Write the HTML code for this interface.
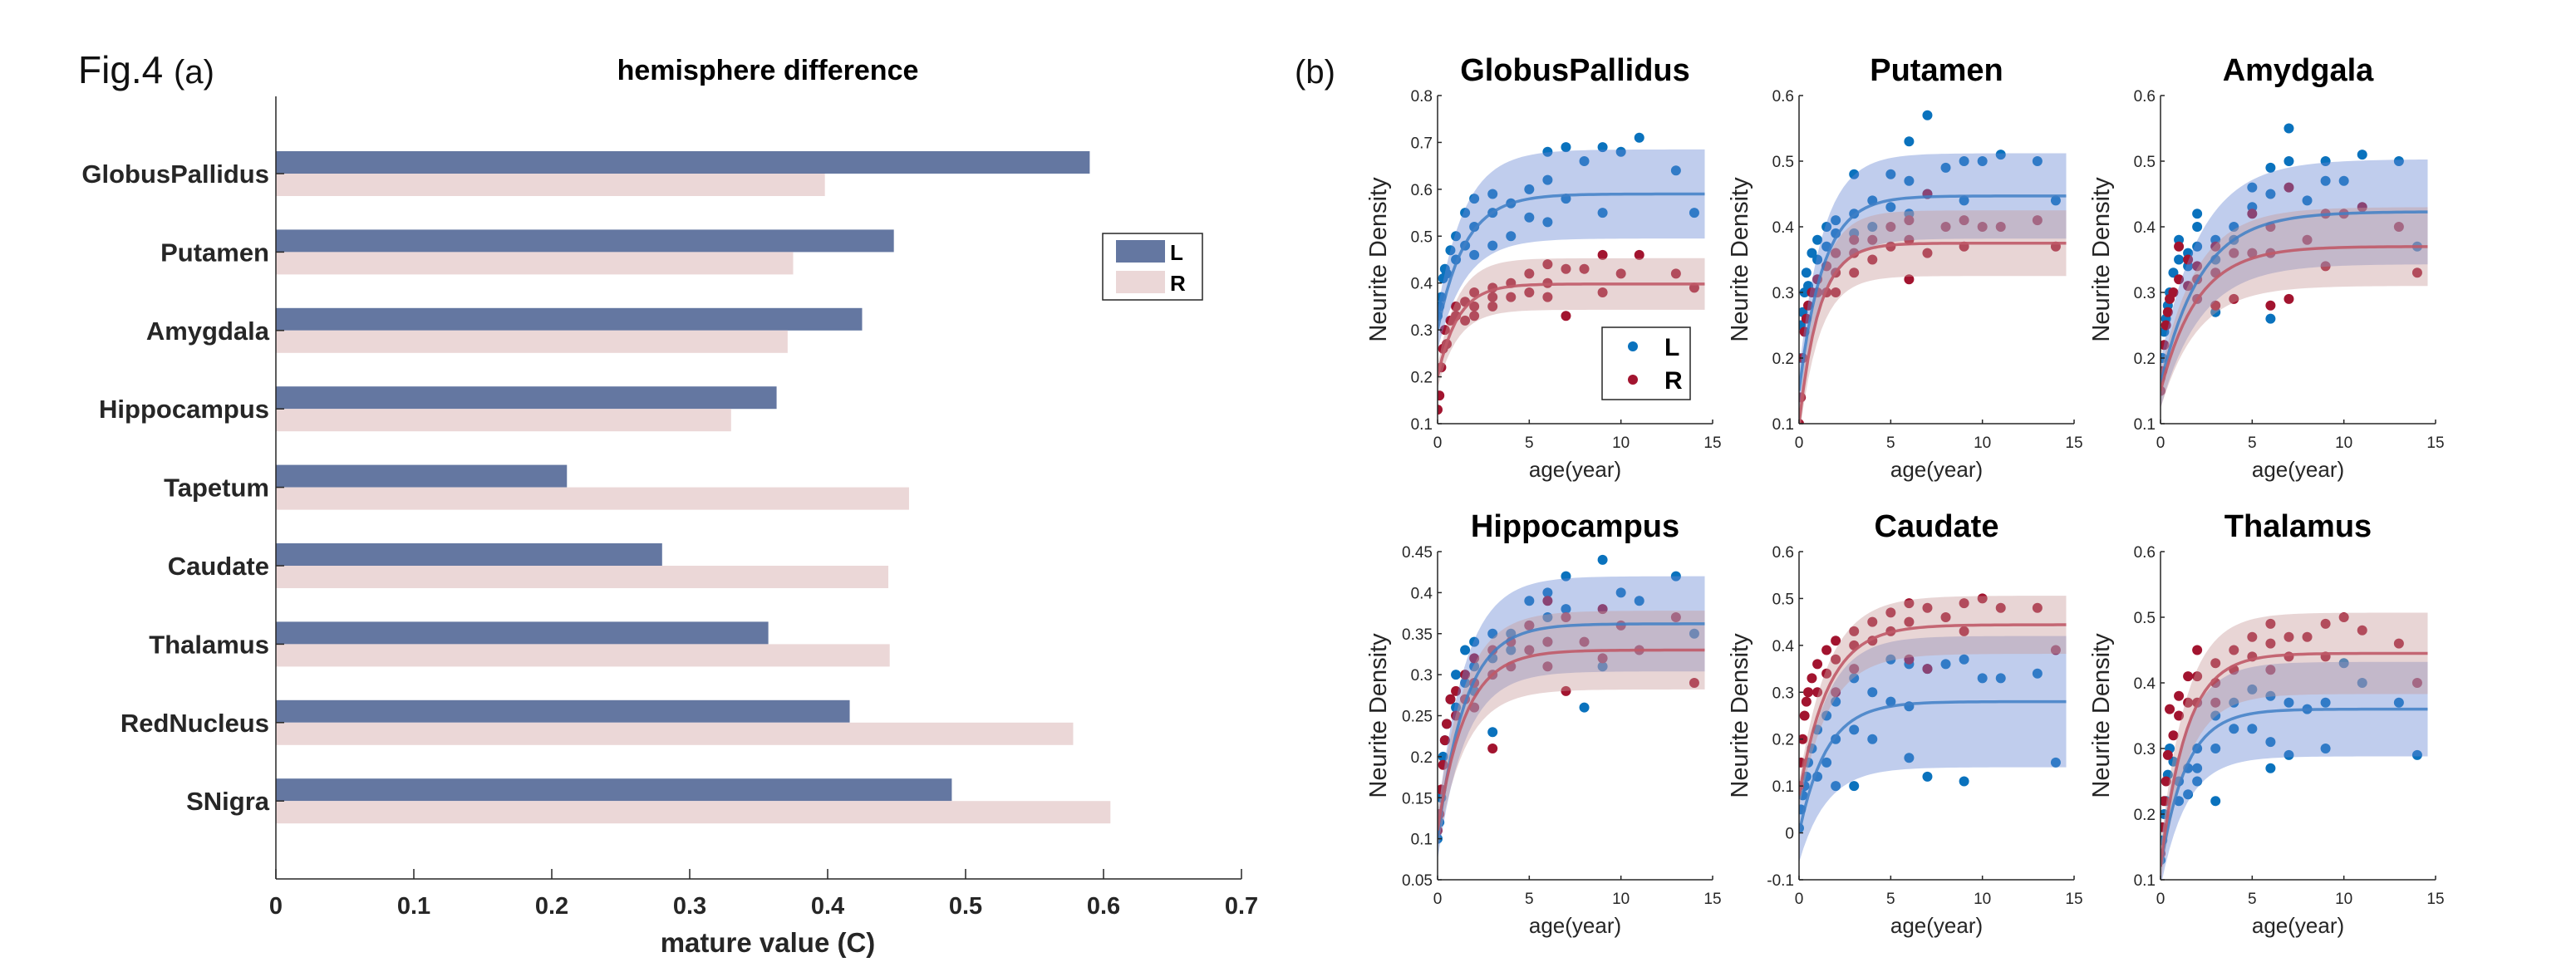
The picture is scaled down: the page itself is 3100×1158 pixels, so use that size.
<!DOCTYPE html>
<html><head><meta charset="utf-8"><style>
html,body{margin:0;padding:0;background:#fff;}
svg{display:block;font-family:"Liberation Sans",Arial,sans-serif;}
</style></head><body>
<svg id="fig" width="3100" height="1158" viewBox="0 0 3100 1158" xmlns="http://www.w3.org/2000/svg">
<rect width="3100" height="1158" fill="#fff"/>
<text x="94" y="100" font-size="46" fill="#111">Fig.4 <tspan font-size="40">(a)</tspan></text>
<text x="1558" y="100" font-size="40" fill="#111">(b)</text>
<g id="bars"></g>
<g id="scatters"></g>
</svg>
<script>
// ---------- bar chart data ----------
const regions = ["GlobusPallidus","Putamen","Amygdala","Hippocampus","Tapetum","Caudate","Thalamus","RedNucleus","SNigra"];
const leftValues = [0.590,0.448,0.425,0.363,0.211,0.280,0.357,0.416,0.490];
const rightValues = [0.398,0.375,0.371,0.330,0.459,0.444,0.445,0.578,0.605];
const barTicks = [0,0.1,0.2,0.3,0.4,0.5,0.6,0.7];

// ---------- scatter data ----------
const panelNames = ["GlobusPallidus","Putamen","Amydgala","Hippocampus","Caudate","Thalamus"];
const ages = [0,0.1,0.2,0.3,0.4,0.5,0.7,1,1,1.5,1.5,2,2,2,3,3,3,4,4,5,5,6,6,6,7,7,8,9,9,10,11,13,14];
const gpL = [0.33,0.35,0.37,0.41,0.43,0.42,0.47,0.45,0.5,0.55,0.48,0.58,0.52,0.46,0.59,0.55,0.48,0.57,0.5,0.6,0.54,0.68,0.62,0.53,0.69,0.58,0.66,0.69,0.55,0.68,0.71,0.64,0.55];
const gpR = [0.13,0.16,0.22,0.26,0.3,0.27,0.32,0.35,0.33,0.36,0.32,0.38,0.35,0.33,0.39,0.37,0.35,0.4,0.37,0.42,0.38,0.44,0.4,0.37,0.43,0.33,0.43,0.46,0.38,0.42,0.46,0.42,0.39];
const puL = [0.2,0.25,0.27,0.3,0.33,0.31,0.36,0.35,0.38,0.4,0.37,0.41,0.39,0.36,0.48,0.42,0.39,0.44,0.4,0.48,0.43,0.53,0.47,0.42,0.57,0.45,0.49,0.5,0.44,0.5,0.51,0.5,0.44];
const puR = [0.1,0.14,0.2,0.24,0.26,0.28,0.3,0.32,0.3,0.34,0.3,0.36,0.33,0.3,0.38,0.36,0.33,0.38,0.35,0.4,0.37,0.41,0.38,0.32,0.45,0.36,0.4,0.41,0.37,0.4,0.4,0.41,0.37];
const amL = [0.17,0.2,0.24,0.26,0.28,0.3,0.33,0.38,0.35,0.36,0.34,0.42,0.4,0.37,0.38,0.35,0.27,0.4,0.38,0.46,0.43,0.49,0.45,0.26,0.55,0.5,0.44,0.5,0.47,0.47,0.51,0.5,0.37];
const amR = [0.15,0.18,0.22,0.25,0.27,0.29,0.3,0.37,0.32,0.35,0.31,0.34,0.32,0.29,0.37,0.33,0.28,0.36,0.29,0.42,0.36,0.4,0.36,0.28,0.46,0.29,0.38,0.42,0.34,0.42,0.43,0.4,0.33];
const hiL = [0.1,0.12,0.15,0.2,0.22,0.24,0.27,0.3,0.26,0.33,0.29,0.34,0.31,0.28,0.35,0.32,0.23,0.35,0.33,0.39,0.36,0.4,0.37,0.34,0.42,0.38,0.26,0.44,0.31,0.4,0.39,0.42,0.35];
const hiR = [0.11,0.13,0.16,0.19,0.22,0.24,0.27,0.28,0.25,0.3,0.27,0.32,0.29,0.26,0.33,0.3,0.21,0.34,0.31,0.36,0.33,0.39,0.34,0.31,0.37,0.28,0.34,0.38,0.32,0.36,0.33,0.37,0.29];
const caL = [0.01,0.05,0.08,0.1,0.12,0.15,0.18,0.22,0.12,0.25,0.15,0.28,0.2,0.1,0.33,0.22,0.1,0.3,0.2,0.37,0.28,0.36,0.27,0.16,0.35,0.12,0.36,0.37,0.11,0.33,0.33,0.34,0.15];
const caR = [0.1,0.15,0.2,0.25,0.28,0.3,0.33,0.36,0.3,0.39,0.34,0.41,0.37,0.3,0.43,0.4,0.35,0.45,0.41,0.47,0.43,0.49,0.45,0.37,0.48,0.35,0.46,0.49,0.43,0.5,0.48,0.48,0.39];
const thL = [0.13,0.16,0.2,0.22,0.26,0.3,0.28,0.25,0.22,0.27,0.23,0.3,0.27,0.25,0.35,0.3,0.22,0.37,0.33,0.39,0.33,0.38,0.31,0.27,0.37,0.29,0.36,0.37,0.3,0.43,0.4,0.37,0.29];
const thR = [0.14,0.18,0.22,0.25,0.29,0.36,0.32,0.38,0.35,0.41,0.37,0.45,0.41,0.37,0.43,0.4,0.37,0.45,0.42,0.47,0.44,0.49,0.46,0.42,0.47,0.44,0.47,0.49,0.44,0.5,0.48,0.46,0.4];
const leftSeries = [gpL,puL,amL,hiL,caL,thL];
const rightSeries = [gpR,puR,amR,hiR,caR,thR];
// fit parameters: plateau, start, time constant, band half-width
const fitPlateauL = [0.59,0.447,0.423,0.362,0.28,0.36];
const fitStartL = [0.30,0.15,0.16,0.10,0.0,0.12];
const fitTauL = [1.5,1.3,2.2,1.5,1.5,1.4];
const fitBandL = [0.095,0.065,0.08,0.058,0.14,0.072];
const fitPlateauR = [0.398,0.375,0.37,0.33,0.444,0.445];
const fitStartR = [0.2,0.1,0.15,0.11,0.08,0.12];
const fitTauR = [1.1,1.1,2.0,1.5,1.6,1.4];
const fitBandR = [0.055,0.05,0.06,0.048,0.062,0.062];
const yMin = [0.1,0.1,0.1,0.05,-0.1,0.1];
const yMax = [0.8,0.6,0.6,0.45,0.6,0.6];
const yStep = [0.1,0.1,0.1,0.05,0.1,0.1];
const xTicks = [0,5,10,15];

const NS="http://www.w3.org/2000/svg";
function mk(tag, attrs, parent){const e=document.createElementNS(NS,tag);for(const k in attrs)e.setAttribute(k,attrs[k]);parent.appendChild(e);return e;}
function fmt(v){let s=(Math.round(v*100)/100).toString();return s;}

// ---------- bar chart ----------
(function(){
  const g=document.getElementById('bars');
  const x0=332, pxPer=1660, yTop=116, yBot=1058, c0=209, step=94.4, bh=27;
  const xs=v=>x0+v*pxPer;
  const t=mk('text',{x:924,y:96,'font-size':34,'font-weight':'bold','text-anchor':'middle',fill:'#000'},g);
  t.textContent='hemisphere difference';
  
  
  regions.forEach((r,i)=>{
    const cy=c0+i*step;
    const bl=mk('rect',{x:x0,y:cy-bh,width:xs(leftValues[i])-x0,height:bh,fill:'#6477a1'},g);
    
    
    const br=mk('rect',{x:x0,y:cy,width:xs(rightValues[i])-x0,height:bh,fill:'#ebd7d7'},g);
    
    
    mk('line',{x1:x0,x2:x0+10,y1:cy,y2:cy,stroke:'#262626','stroke-width':1.5},g);
    const lb=mk('text',{x:324,y:cy+11,'font-size':31,'font-weight':'bold','text-anchor':'end',fill:'#262626'},g);
    lb.textContent=r;
    
    
  });
  mk('line',{x1:x0,x2:x0,y1:yTop,y2:yBot,stroke:'#262626','stroke-width':1.5},g);
  mk('line',{x1:x0,x2:xs(0.7),y1:yBot,y2:yBot,stroke:'#262626','stroke-width':1.5},g);
  barTicks.forEach(v=>{
    mk('line',{x1:xs(v),x2:xs(v),y1:yBot,y2:yBot-12,stroke:'#262626','stroke-width':1.5},g);
    const tl=mk('text',{x:xs(v),y:1100,'font-size':29,'font-weight':'bold','text-anchor':'middle',fill:'#262626'},g);
    tl.textContent=fmt(v);
    
    
  });
  const xt=mk('text',{x:924,y:1146,'font-size':33,'font-weight':'bold','text-anchor':'middle',fill:'#262626'},g);
  xt.textContent='mature value (C)';
  
  
  const lg=mk('g',{},g);
  
  
  mk('rect',{x:1327,y:281,width:120,height:80,fill:'#fff',stroke:'#262626','stroke-width':1.5},lg);
  mk('rect',{x:1343,y:289,width:59,height:27,fill:'#6477a1'},lg);
  mk('rect',{x:1343,y:326,width:59,height:27,fill:'#ebd7d7'},lg);
  const l1=mk('text',{x:1408,y:313,'font-size':26,'font-weight':'bold',fill:'#000'},lg); l1.textContent='L';
  
  
  const l2=mk('text',{x:1408,y:350,'font-size':26,'font-weight':'bold',fill:'#000'},lg); l2.textContent='R';
  
  
})();

// ---------- scatter panels ----------
(function(){
  const root=document.getElementById('scatters');
  const colX=[1730,2165,2600], rowTop=[115,664], W=331, H=395;
  const bandEnd=14.57;
  panelNames.forEach((nm,p)=>{
    const ox=colX[p%3], oy=rowTop[Math.floor(p/3)];
    const g=mk('g',{},root);
    
    
    const sx=t=>ox+t/15*W;
    const sy=v=>oy+H-(v-yMin[p])/(yMax[p]-yMin[p])*H;
    const clip='clip'+p;
    const cp=mk('clipPath',{id:clip},g);
    mk('rect',{x:ox,y:oy-10,width:W+10,height:H+10},cp);
    const pg=mk('g',{'clip-path':'url(#'+clip+')'},g);
    const drawDots=(arr,col,name)=>{
      arr.forEach((v,i)=>{
        const c=mk('circle',{cx:sx(ages[i]),cy:sy(v),r:6,fill:col},pg);
        
        
      });
    };
    drawDots(leftSeries[p],'#0a72bd','point-left');
    drawDots(rightSeries[p],'#a2142f','point-right');
    const fit=(C,S,tau,w,bandCol,side)=>{
      const f=t=>C-(C-S)*Math.exp(-t/tau);
      const bw=t=>w*(0.45+0.55*(1-Math.exp(-t/tau)));
      let up=[],dn=[],ln=[];
      for(let k=0;k<=60;k++){const t=bandEnd*k/60;up.push(sx(t)+','+sy(f(t)+bw(t)));dn.push(sx(t)+','+sy(f(t)-bw(t)));ln.push(sx(t)+','+sy(f(t)));}
      const b=mk('polygon',{points:up.concat(dn.reverse()).join(' '),fill:bandCol,'fill-opacity':0.42},pg);
      
      
      return ln;
    };
    const lnL=fit(fitPlateauL[p],fitStartL[p],fitTauL[p],fitBandL[p],'#6a88d4','left');
    const lnR=fit(fitPlateauR[p],fitStartR[p],fitTauR[p],fitBandR[p],'#c99a9a','right');
    const a=mk('polyline',{points:lnL.join(' '),fill:'none',stroke:'#3f7fc6','stroke-width':3.5,'stroke-opacity':0.85},pg);
    
    
    const b=mk('polyline',{points:lnR.join(' '),fill:'none',stroke:'#c05a68','stroke-width':3.5,'stroke-opacity':0.9},pg);
    
    
    mk('line',{x1:ox,x2:ox,y1:oy,y2:oy+H,stroke:'#262626','stroke-width':1.5},g);
    mk('line',{x1:ox,x2:ox+W,y1:oy+H,y2:oy+H,stroke:'#262626','stroke-width':1.5},g);
    xTicks.forEach(t=>{
      mk('line',{x1:sx(t),x2:sx(t),y1:oy+H,y2:oy+H-5,stroke:'#262626','stroke-width':1.5},g);
      const tl=mk('text',{x:sx(t),y:oy+H+29,'font-size':19,'text-anchor':'middle',fill:'#262626'},g);
      tl.textContent=t;
      
      
    });
    const n=Math.round((yMax[p]-yMin[p])/yStep[p]);
    for(let k=0;k<=n;k++){
      const v=yMin[p]+k*yStep[p];
      mk('line',{x1:ox,x2:ox+5,y1:sy(v),y2:sy(v),stroke:'#262626','stroke-width':1.5},g);
      const tl=mk('text',{x:ox-6,y:sy(v)+7,'font-size':19,'text-anchor':'end',fill:'#262626'},g);
      tl.textContent=fmt(v);
      
      
    }
    const tt=mk('text',{x:ox+W/2,y:oy-18,'font-size':38,'font-weight':'bold','text-anchor':'middle',fill:'#000'},g);
    tt.textContent=nm;
    
    
    const xl=mk('text',{x:ox+W/2,y:oy+H+64,'font-size':26,'text-anchor':'middle',fill:'#262626'},g);
    xl.textContent='age(year)';
    
    
    const yx=ox-62, yy=oy+H/2;
    const yl=mk('text',{x:yx,y:yy,'font-size':29,'text-anchor':'middle',fill:'#262626',transform:'rotate(-90 '+yx+' '+yy+')'},g);
    yl.textContent='Neurite Density';
    
    
    if(p===0){
      const lg=mk('g',{},g);
      
      
      mk('rect',{x:1928,y:394,width:106,height:87,fill:'#fff',stroke:'#262626','stroke-width':1.5},lg);
      mk('circle',{cx:1965,cy:417,r:6,fill:'#0a72bd'},lg);
      mk('circle',{cx:1965,cy:457,r:6,fill:'#a2142f'},lg);
      const a1=mk('text',{x:2003,y:428,'font-size':30,'font-weight':'bold',fill:'#000'},lg); a1.textContent='L';
      
      
      const a2=mk('text',{x:2003,y:468,'font-size':30,'font-weight':'bold',fill:'#000'},lg); a2.textContent='R';
      
      
    }
  });
})();
</script>
</body></html>
